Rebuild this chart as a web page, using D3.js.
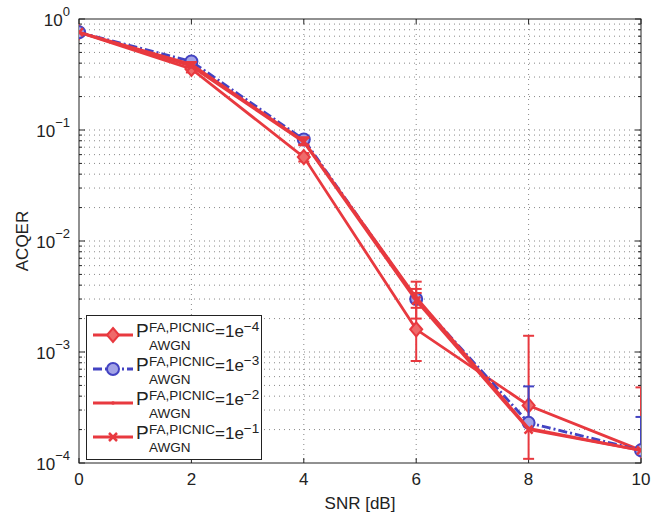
<!DOCTYPE html>
<html><head><meta charset="utf-8">
<script src="https://cdn.jsdelivr.net/npm/d3@7"></script>
<style>body{margin:0;background:#fff}svg{display:block}text{font-family:"Liberation Sans",Arial,sans-serif;fill:#222}</style>
</head><body><svg id="c" width="652" height="518"></svg>
<script>
const snr = [0, 2, 4, 6, 8, 10];
const xTicks = [0, 2, 4, 6, 8, 10];
const yTickExp = [0, -1, -2, -3, -4];
const legendExp = ["−4", "−3", "−2", "−1"];
const s1 = [0.76, 0.355, 0.057, 0.0016, 0.00033, 0.00013];
const s2 = [0.76, 0.415, 0.082, 0.0030, 0.00023, 0.00013];
const s3 = [0.76, 0.39, 0.079, 0.0031, 0.000205, 0.00013];
const s4 = [0.76, 0.375, 0.078, 0.0029, 0.0002, 0.00013];
const s1Lo = [null, 0.33, 0.052, 0.00083, 0.000109, null];
const s1Hi = [null, 0.385, 0.062, 0.0043, 0.0014, 0.00048];
const s2Lo = [null, null, null, null, null, null];
const s2Hi = [null, null, null, null, 0.00049, 0.00026];
const s3Lo = [null, 0.37, 0.074, 0.0025, null, null];
const s3Hi = [null, 0.41, 0.086, 0.0037, null, null];
const s4Lo = [null, null, 0.073, 0.0020, null, null];
const s4Hi = [null, null, 0.085, 0.0034, null, null];

const RED = "#e8393f", BLUE = "#4343c2";
const L = 79, R = 641, T = 19, B = 463;
const svg = d3.select("#c");
const x = d3.scaleLinear().domain([0, 10]).range([L, R]);
const y = d3.scaleLog().domain([1e-4, 1]).range([B, T]);

// grid
const minor = [], major = [];
for (let k = -4; k < 0; k++) for (let m = 1; m < 10; m++) { const v = m * Math.pow(10, k); (m === 1 ? major : minor).push(v); }
major.push(1);
const g = svg.append("g");
g.selectAll(".hg").data(major.concat(minor).filter(v => v > 1e-4 && v < 1)).join("line")
  .attr("x1", L).attr("x2", R).attr("y1", d => y(d)).attr("y2", d => y(d))
  .attr("stroke", "#888").attr("stroke-width", 1).attr("stroke-dasharray", "1,4");
g.selectAll(".vg").data(xTicks.filter(d => d > 0 && d < 10)).join("line")
  .attr("x1", d => x(d)).attr("x2", d => x(d)).attr("y1", T).attr("y2", B)
  .attr("stroke", "#888").attr("stroke-width", 1).attr("stroke-dasharray", "1,4");

// frame
svg.append("rect").attr("x", L).attr("y", T).attr("width", R - L).attr("height", B - T)
  .attr("fill", "none").attr("stroke", "#222").attr("stroke-width", 1);
// ticks
const tk = svg.append("g").attr("stroke", "#222");
xTicks.forEach(d => {
  tk.append("line").attr("x1", x(d)).attr("x2", x(d)).attr("y1", B).attr("y2", B - 5);
  tk.append("line").attr("x1", x(d)).attr("x2", x(d)).attr("y1", T).attr("y2", T + 5);
});
major.concat(minor).forEach(v => {
  const len = major.includes(v) ? 6 : 3;
  tk.append("line").attr("x1", L).attr("x2", L + len).attr("y1", y(v)).attr("y2", y(v));
  tk.append("line").attr("x1", R).attr("x2", R - len).attr("y1", y(v)).attr("y2", y(v));
});
// tick labels
svg.selectAll(".xl").data(xTicks).join("text").attr("x", d => x(d)).attr("y", 485)
  .attr("text-anchor", "middle").attr("font-size", 17).text(d => d);
yTickExp.forEach(e => {
  const t = svg.append("text").attr("x", 70).attr("y", y(Math.pow(10, e)) + 7).attr("text-anchor", "end").attr("font-size", 17);
  t.append("tspan").text("10");
  t.append("tspan").attr("dy", -10).attr("font-size", 13).text(e === 0 ? "0" : "−" + (-e));
});
svg.append("text").attr("x", (L + R) / 2).attr("y", 509).attr("text-anchor", "middle").attr("font-size", 17).text("SNR [dB]");
svg.append("text").attr("transform", "translate(28," + ((T + B) / 2) + ") rotate(-90)").attr("text-anchor", "middle").attr("font-size", 17).text("ACQER");

svg.append("clipPath").attr("id", "pc").append("rect").attr("x", L).attr("y", T).attr("width", R - L).attr("height", B - T);
const plot = svg.append("g").attr("clip-path", "url(#pc)");

function marker(sel, type, color, fill) {
  if (type === "diamond") sel.append("path").attr("d", "M0,-7L6,0L0,7L-6,0Z").attr("fill", fill).attr("stroke", color).attr("stroke-width", 2);
  else if (type === "circle") sel.append("circle").attr("r", 6).attr("fill", fill).attr("stroke", color).attr("stroke-width", 2);
  else if (type === "x") sel.append("path").attr("d", "M-4,-4L4,4M-4,4L4,-4").attr("stroke", color).attr("stroke-width", 2.5);
  else if (type === "dot") sel.append("circle").attr("r", 1.8).attr("fill", color);
}
const series = [
  {v: s1, lo: s1Lo, hi: s1Hi, color: RED, dash: null, m: "diamond", fill: "#ef6a6a"},
  {v: s2, lo: s2Lo, hi: s2Hi, color: BLUE, dash: "9,3,2,3", m: "circle", fill: "#a3a3e6"},
  {v: s3, lo: s3Lo, hi: s3Hi, color: RED, dash: null, m: "dot", fill: RED},
  {v: s4, lo: s4Lo, hi: s4Hi, color: RED, dash: null, m: "x", fill: RED}
];
const line = d3.line().x((d, i) => x(snr[i])).y(d => y(d));
series.forEach(s => {
  const gg = plot.append("g");
  s.v.forEach((v, i) => {
    if (s.hi[i] == null && s.lo[i] == null) return;
    const top = s.hi[i] != null ? s.hi[i] : v;
    const bot = s.lo[i] != null ? s.lo[i] : v;
    gg.append("line").attr("x1", x(snr[i])).attr("x2", x(snr[i])).attr("y1", y(top)).attr("y2", y(bot))
      .attr("stroke", s.color).attr("stroke-width", 2);
    if (s.hi[i] != null) gg.append("line").attr("x1", x(snr[i]) - 5.5).attr("x2", x(snr[i]) + 5.5).attr("y1", y(top)).attr("y2", y(top)).attr("stroke", s.color).attr("stroke-width", 2);
    if (s.lo[i] != null) gg.append("line").attr("x1", x(snr[i]) - 5.5).attr("x2", x(snr[i]) + 5.5).attr("y1", y(bot)).attr("y2", y(bot)).attr("stroke", s.color).attr("stroke-width", 2);
  });
  gg.append("path").datum(s.v).attr("d", line).attr("fill", "none").attr("stroke", s.color)
    .attr("stroke-width", 2.8).attr("stroke-dasharray", s.dash);
  s.v.forEach((v, i) => marker(gg.append("g").attr("transform", `translate(${x(snr[i])},${y(v)})`), s.m, s.color, s.fill));
});

// legend
const lg = svg.append("g");
lg.append("rect").attr("x", 86.5).attr("y", 315.5).attr("width", 175).attr("height", 144).attr("fill", "#fff").attr("stroke", "#222");
series.forEach((s, i) => {
  const ly = 335 + i * 34;
  lg.append("line").attr("x1", 93).attr("x2", 133).attr("y1", ly).attr("y2", ly).attr("stroke", s.color).attr("stroke-width", 2.8).attr("stroke-dasharray", s.dash);
  marker(lg.append("g").attr("transform", `translate(113,${ly})`), s.m, s.color, s.fill);
  const p = lg.append("text").attr("x", 136).attr("y", ly + 2).attr("font-size", 19).text("P");
  const sx = 136 + p.node().getComputedTextLength() + 0.3;
  const sup = lg.append("text").attr("x", sx).attr("y", ly - 3).attr("font-size", 13.5).text("FA,PICNIC");
  const sub = lg.append("text").attr("x", sx).attr("y", ly + 15).attr("font-size", 13.5).text("AWGN");
  const ex = sx + Math.max(sup.node().getComputedTextLength(), sub.node().getComputedTextLength());
  const eq = lg.append("text").attr("x", ex).attr("y", ly + 2).attr("font-size", 17).text("=1e");
  lg.append("text").attr("x", ex + eq.node().getComputedTextLength()).attr("y", ly - 4).attr("font-size", 13.5).text(legendExp[i]);
});
</script></body></html>
